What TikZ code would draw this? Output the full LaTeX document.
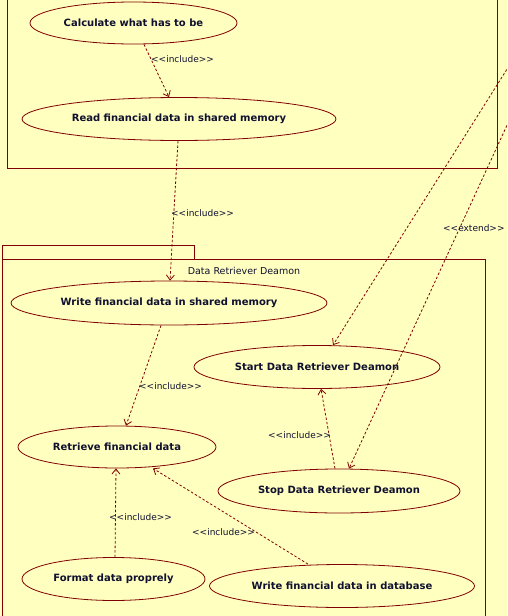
\documentclass[tikz,border=0pt]{standalone}
\usepackage{fontspec}
\setmainfont{DejaVu Sans}
\usepackage{tikz}
\usetikzlibrary{arrows.meta,shapes.geometric}
\definecolor{umlbg}{HTML}{FFFFC0}
\definecolor{umlline}{HTML}{800000}
\definecolor{umltext}{HTML}{101030}

\begin{document}
\begin{tikzpicture}[x=1pt,y=-1pt,
    usecase/.style={draw=umlline,line width=0.8pt,ellipse,inner sep=0pt,text=umltext,font=\bfseries\fontsize{10}{12}\selectfont},
    dep/.style={umlline,line width=0.8pt,dash pattern=on 2.5pt off 2pt,-{Straight Barb[length=5pt,width=8pt]}},
    stereo/.style={text=umltext,inner sep=0pt,anchor=west,font=\fontsize{9}{11}\selectfont}]
    \clip (0,0) rectangle (507,616);
    \fill[umlbg] (0,0) rectangle (507,616);
    \draw[umlline,line width=0.8pt] (7,-5) rectangle (497,168);
    \draw[umlline,line width=0.8pt] (2,245) rectangle (194,259);
    \draw[umlline,line width=0.8pt] (2,259) rectangle (485,630);
    \node[stereo,anchor=center,font=\fontsize{9.5}{11}\selectfont] (pkg) at (244,271) {Data Retriever Deamon};
    \node[usecase,minimum width=207pt,minimum height=42pt] (calc) at (133.5,23) {Calculate what has to be};
    \node[usecase,minimum width=314pt,minimum height=43pt] (read) at (179,119) {Read financial data in shared memory};
    \node[usecase,minimum width=316pt,minimum height=44pt] (wsm) at (169,303) {Write financial data in shared memory};
    \node[usecase,minimum width=246pt,minimum height=43pt] (start) at (317,367) {Start Data Retriever Deamon};
    \node[usecase,minimum width=198pt,minimum height=42pt] (retr) at (117,447) {Retrieve financial data};
    \node[usecase,minimum width=242pt,minimum height=44pt] (stop) at (339,491) {Stop Data Retriever Deamon};
    \node[usecase,minimum width=183pt,minimum height=43pt] (fmt) at (113.5,579) {Format data proprely};
    \node[usecase,minimum width=265pt,minimum height=43pt] (wdb) at (342,586) {Write financial data in database};
    \coordinate (ext1) at (538,20);
    \coordinate (ext2) at (537,60);
    \draw[dep] ([xshift=10.5pt]calc.south) -- ([xshift=-10pt]read.north);
    \draw[dep] ([xshift=-1pt]read.south) -- ([xshift=1pt]wsm.north);
    \draw[dep] ([xshift=-8pt]wsm.south) -- ([xshift=9pt]retr.north);
    \draw[dep] ([xshift=-4pt]stop.north) -- ([xshift=4pt]start.south);
    \draw[dep] ([xshift=1.5pt]fmt.north) -- ([xshift=-1pt]retr.south);
    \draw[dep] ([xshift=-34pt]wdb.north) -- ([xshift=36pt]retr.south);
    \draw[dep] (ext1) -- ([xshift=16pt]start.north);
    \draw[dep] (ext2) -- ([xshift=10pt]stop.north);
    \foreach \n/\x/\y in {inca/151/59,incb/171/213,incc/139/386,incd/268/435,ince/109/517,incf/192/532}
        \node[stereo] (\n) at (\x,\y) {{<}{<}include{>}{>}};
    \node[stereo] (ext) at (443,228) {{<}{<}extend{>}{>}};
\end{tikzpicture}
\end{document}
